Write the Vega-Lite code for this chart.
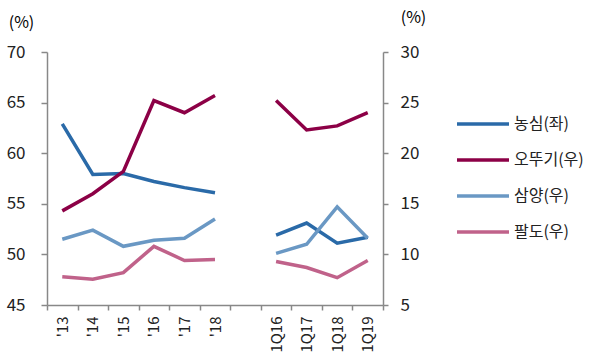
{
  "$schema": "https://vega.github.io/schema/vega-lite/v6.json",
  "width": 336,
  "height": 253,
  "autosize": {"type": "none"},
  "padding": {"left": 47, "top": 52, "right": 209, "bottom": 51},
  "config": {
    "font": "Noto Sans CJK KR",
    "view": {"stroke": null},
    "axis": {"grid": false, "domainColor": "#888888", "tickColor": "#888888", "labelColor": "#222222", "labelFont": "Noto Sans CJK KR", "titleFont": "Noto Sans CJK KR", "titleFontWeight": "normal", "domainWidth": 1.5, "tickWidth": 1.5}
  },
  "data": {"values": [
    {"x": "'13", "seg": "A", "co": "농심(좌)", "v": 62.9},
    {"x": "'14", "seg": "A", "co": "농심(좌)", "v": 57.9},
    {"x": "'15", "seg": "A", "co": "농심(좌)", "v": 58.0},
    {"x": "'16", "seg": "A", "co": "농심(좌)", "v": 57.2},
    {"x": "'17", "seg": "A", "co": "농심(좌)", "v": 56.6},
    {"x": "'18", "seg": "A", "co": "농심(좌)", "v": 56.1},
    {"x": "1Q16", "seg": "Q", "co": "농심(좌)", "v": 51.9},
    {"x": "1Q17", "seg": "Q", "co": "농심(좌)", "v": 53.1},
    {"x": "1Q18", "seg": "Q", "co": "농심(좌)", "v": 51.1},
    {"x": "1Q19", "seg": "Q", "co": "농심(좌)", "v": 51.7},
    {"x": "'13", "seg": "A", "co": "오뚜기(우)", "v": 14.3},
    {"x": "'14", "seg": "A", "co": "오뚜기(우)", "v": 16.0},
    {"x": "'15", "seg": "A", "co": "오뚜기(우)", "v": 18.2},
    {"x": "'16", "seg": "A", "co": "오뚜기(우)", "v": 25.2},
    {"x": "'17", "seg": "A", "co": "오뚜기(우)", "v": 24.0},
    {"x": "'18", "seg": "A", "co": "오뚜기(우)", "v": 25.7},
    {"x": "1Q16", "seg": "Q", "co": "오뚜기(우)", "v": 25.2},
    {"x": "1Q17", "seg": "Q", "co": "오뚜기(우)", "v": 22.3},
    {"x": "1Q18", "seg": "Q", "co": "오뚜기(우)", "v": 22.7},
    {"x": "1Q19", "seg": "Q", "co": "오뚜기(우)", "v": 24.0},
    {"x": "'13", "seg": "A", "co": "삼양(우)", "v": 11.5},
    {"x": "'14", "seg": "A", "co": "삼양(우)", "v": 12.4},
    {"x": "'15", "seg": "A", "co": "삼양(우)", "v": 10.8},
    {"x": "'16", "seg": "A", "co": "삼양(우)", "v": 11.4},
    {"x": "'17", "seg": "A", "co": "삼양(우)", "v": 11.6},
    {"x": "'18", "seg": "A", "co": "삼양(우)", "v": 13.5},
    {"x": "1Q16", "seg": "Q", "co": "삼양(우)", "v": 10.1},
    {"x": "1Q17", "seg": "Q", "co": "삼양(우)", "v": 11.0},
    {"x": "1Q18", "seg": "Q", "co": "삼양(우)", "v": 14.7},
    {"x": "1Q19", "seg": "Q", "co": "삼양(우)", "v": 11.6},
    {"x": "'13", "seg": "A", "co": "팔도(우)", "v": 7.8},
    {"x": "'14", "seg": "A", "co": "팔도(우)", "v": 7.55},
    {"x": "'15", "seg": "A", "co": "팔도(우)", "v": 8.2},
    {"x": "'16", "seg": "A", "co": "팔도(우)", "v": 10.8},
    {"x": "'17", "seg": "A", "co": "팔도(우)", "v": 9.4},
    {"x": "'18", "seg": "A", "co": "팔도(우)", "v": 9.5},
    {"x": "1Q16", "seg": "Q", "co": "팔도(우)", "v": 9.3},
    {"x": "1Q17", "seg": "Q", "co": "팔도(우)", "v": 8.7},
    {"x": "1Q18", "seg": "Q", "co": "팔도(우)", "v": 7.7},
    {"x": "1Q19", "seg": "Q", "co": "팔도(우)", "v": 9.4}
  ]},
  "encoding": {
    "x": {
      "field": "x", "type": "nominal",
      "scale": {"type": "band", "domain": ["'13", "'14", "'15", "'16", "'17", "'18", " ", "1Q16", "1Q17", "1Q18", "1Q19"], "paddingInner": 0, "paddingOuter": 0},
      "bandPosition": 0.5,
      "axis": {"title": null, "labelAngle": -90, "labelFontSize": 15, "labelPadding": 6, "tickSize": 5, "tickBand": "extent", "labelAlign": "right", "labelBaseline": "middle"}
    },
    "color": {
      "field": "co", "type": "nominal",
      "scale": {"domain": ["농심(좌)", "오뚜기(우)", "삼양(우)", "팔도(우)"], "range": ["#2a6aa8", "#8c0046", "#6a98c4", "#c0628a"]},
      "legend": {"title": null, "orient": "none", "legendX": 408, "legendY": 44, "symbolType": "stroke", "symbolSize": 2704, "symbolStrokeWidth": 3.5, "labelFontSize": 16, "labelColor": "#222222", "labelOffset": 3, "rowPadding": -12}
    },
    "detail": {"field": "seg"}
  },
  "layer": [
    {
      "transform": [{"filter": "datum.co === '농심(좌)'"}],
      "mark": {"type": "line", "strokeWidth": 3.5},
      "encoding": {
        "y": {"field": "v", "type": "quantitative", "scale": {"domain": [45, 70], "nice": false, "zero": false},
          "axis": {"orient": "left", "title": "(%)", "titleAngle": 0, "titleFontSize": 16, "titleX": -26, "titleY": -22, "titleAlign": "center", "values": [45, 50, 55, 60, 65, 70], "labelFontSize": 17, "tickSize": 6, "labelPadding": 16}}
      }
    },
    {
      "transform": [{"filter": "datum.co !== '농심(좌)'"}],
      "mark": {"type": "line", "strokeWidth": 3.5},
      "encoding": {
        "y": {"field": "v", "type": "quantitative", "scale": {"domain": [5, 30], "nice": false, "zero": false},
          "axis": {"orient": "right", "title": "(%)", "titleAngle": 0, "titleFontSize": 16, "titleX": 30, "titleY": -27, "titleAlign": "center", "values": [5, 10, 15, 20, 25, 30], "labelFontSize": 17, "tickSize": 5, "labelPadding": 12}}
      }
    }
  ],
  "resolve": {"scale": {"y": "independent"}}
}
